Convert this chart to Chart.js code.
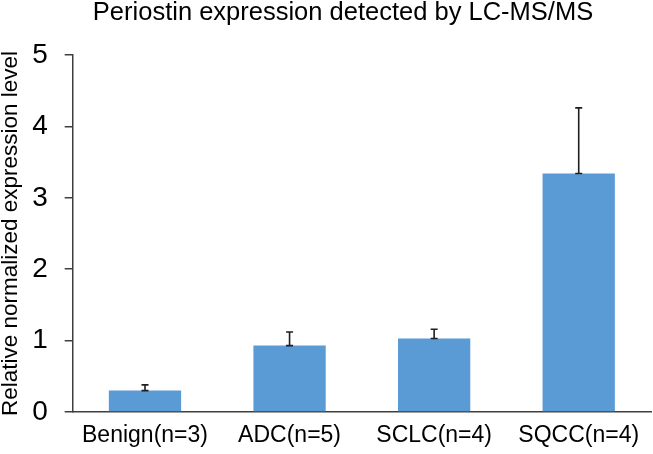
<!DOCTYPE html>
<html>
<head>
<meta charset="utf-8">
<script src="https://cdn.jsdelivr.net/npm/chart.js@4"></script>
<style>
html,body{margin:0;padding:0;background:#fff;}
canvas{display:block;}
</style>
</head>
<body>
<canvas id="c" width="653" height="454"></canvas>
<script>
const categories = ['Benign(n=3)', 'ADC(n=5)', 'SCLC(n=4)', 'SQCC(n=4)'];
const values = [0.30, 0.93, 1.03, 3.34];
const errors = [0.08, 0.19, 0.13, 0.92];
const yTicks = [0, 1, 2, 3, 4, 5];
const chartTitle = 'Periostin expression detected by LC-MS/MS';

const FONT = "'Liberation Sans', Arial, sans-serif";

const errorBarPlugin = {
  id: 'errorBars',
  afterDatasetsDraw(chart) {
    const ctx = chart.ctx;
    const meta = chart.getDatasetMeta(0);
    const yScale = chart.scales.y;
    ctx.save();
    ctx.strokeStyle = '#1f1f1f';
    ctx.lineWidth = 1.6;
    meta.data.forEach((bar, i) => {
      const x = bar.x;
      const y1 = yScale.getPixelForValue(values[i]);
      const y2 = yScale.getPixelForValue(values[i] + errors[i]);
      const hw = 3.5;
      ctx.beginPath();
      ctx.moveTo(x, y1); ctx.lineTo(x, y2);
      ctx.moveTo(x - hw, y2); ctx.lineTo(x + hw, y2);
      ctx.moveTo(x - hw, y1); ctx.lineTo(x + hw, y1);
      ctx.stroke();
    });
    ctx.restore();
  }
};

const titlePlugin = {
  id: 'customTitle',
  afterDraw(chart) {
    const ctx = chart.ctx;
    ctx.save();
    ctx.fillStyle = '#000';
    ctx.font = '25.5px ' + FONT;
    ctx.textAlign = 'center';
    ctx.textBaseline = 'middle';
    ctx.fillText(chartTitle, 343, 13);
    ctx.restore();
  }
};

new Chart(document.getElementById('c'), {
  type: 'bar',
  data: {
    labels: categories,
    datasets: [{
      data: values,
      backgroundColor: '#5B9BD5',
      borderWidth: 0,
      categoryPercentage: 1.0,
      barPercentage: 0.5
    }]
  },
  options: {
    responsive: false,
    animation: false,
    layout: { padding: { left: 0, right: 2, top: 55, bottom: 0 } },
    plugins: {
      legend: { display: false },
      tooltip: { enabled: false },
      title: { display: false }
    },
    scales: {
      x: {
        grid: { display: true, drawOnChartArea: false, drawTicks: false },
        border: { display: true, color: '#3f3f3f', width: 1.5 },
        ticks: { color: '#000', font: { family: FONT, size: 23 }, padding: 10, maxRotation: 0, autoSkip: false },
        afterFit(scale) { scale.height = 42; }
      },
      y: {
        min: 0,
        max: 5,
        afterBuildTicks(scale) { scale.ticks = yTicks.map(v => ({ value: v })); },
        grid: { drawOnChartArea: false, drawTicks: true, tickLength: 8, color: '#3f3f3f', lineWidth: 1.5 },
        border: { display: true, color: '#3f3f3f', width: 1.5 },
        ticks: { color: '#000', font: { family: FONT, size: 28 }, padding: 17 },
        title: {
          display: true,
          text: 'Relative normalized expression level',
          color: '#000',
          font: { family: FONT, size: 22.5, lineHeight: 1 },
          padding: 0
        },
        afterFit(scale) { scale.width = 72.7; }
      }
    }
  },
  plugins: [errorBarPlugin, titlePlugin]
});
</script>
</body>
</html>
